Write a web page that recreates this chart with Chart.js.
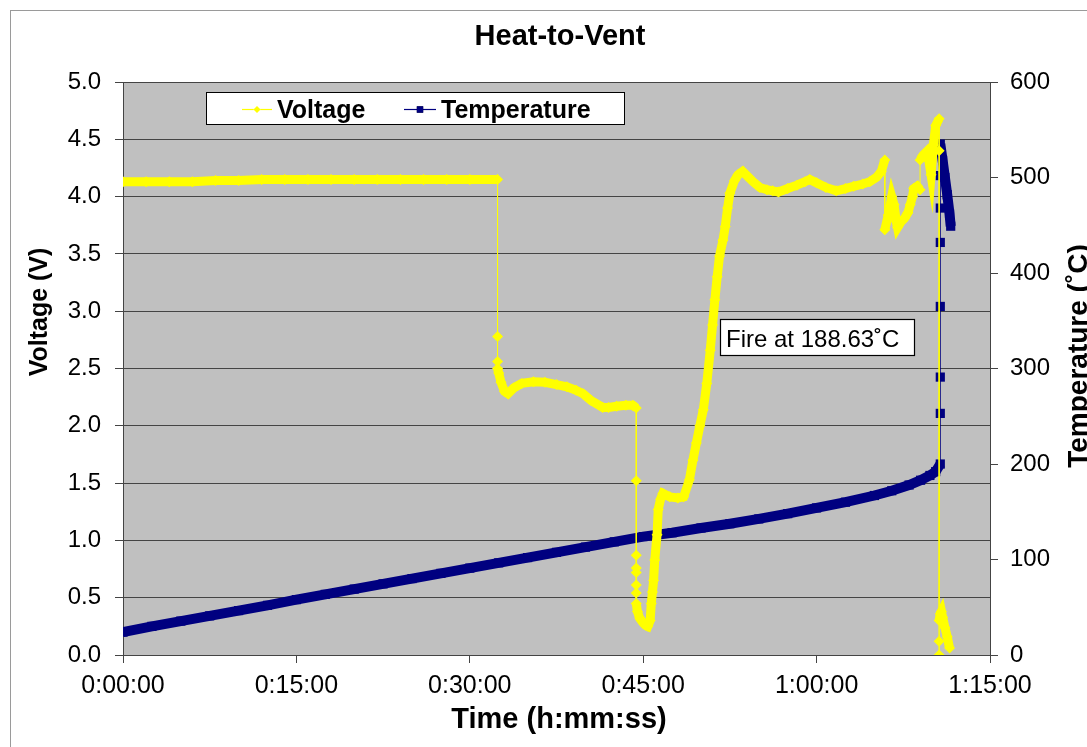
<!DOCTYPE html>
<html>
<head>
<meta charset="utf-8">
<script src="https://cdn.jsdelivr.net/npm/chart.js@4"></script>
<style>
  html, body { margin: 0; padding: 0; background: #fff; }
</style>
</head>
<body>
<canvas id="chart" width="1087" height="747"></canvas>
<script>
// Time in minutes since start
const voltTime = [
  0, 2, 4, 6, 8, 10, 12, 14, 16, 18, 20, 22, 24, 26, 28, 30, 32.4,
  32.4, 32.4, 32.4, 32.5, 32.7, 33.0, 33.3, 33.8, 34.5, 35.5, 36.5, 37.5, 38.4, 39.2, 39.8,
  40.5, 41.5, 42.0, 42.7, 43.5, 44.1, 44.4,
  44.4, 44.4, 44.4, 44.4, 44.4, 44.4, 44.4, 44.5, 44.7, 45.0, 45.2, 45.4, 45.6, 45.7, 45.8,
  45.9, 46.0, 46.2, 46.3, 46.5, 46.7, 47.3, 48.0, 48.5, 49.0, 49.3, 49.6, 49.9, 50.2, 50.5,
  50.8, 51.0, 51.2, 51.4, 51.6, 51.9, 52.1, 52.3, 52.5, 52.9, 53.2, 53.6, 54.0, 54.5, 55.1,
  55.7, 56.2, 56.7, 57.5, 58.3, 59.0, 59.4, 60.0, 60.8, 61.7, 62.5, 63.2, 64.0, 64.6, 65.2,
  65.6, 65.9,
  65.9, 66.2, 66.35, 66.5, 66.7, 66.9, 67.0, 67.3, 67.6, 67.9, 68.1, 68.3, 68.4, 68.7, 68.95,
  68.95, 69.2, 69.5, 69.7, 69.9, 70.1, 70.3, 70.6,
  70.6, 70.6, 70.6, 70.6, 70.7, 70.8, 70.9, 71.1, 71.3, 71.5
];
const voltValue = [
  4.13, 4.13, 4.13, 4.13, 4.14, 4.14, 4.15, 4.15, 4.15, 4.15, 4.15, 4.15, 4.15, 4.15, 4.15, 4.15, 4.15,
  2.78, 2.56, 2.50, 2.46, 2.38, 2.30, 2.28, 2.33, 2.37, 2.385, 2.38, 2.36, 2.34, 2.31, 2.28,
  2.22, 2.16, 2.16, 2.17, 2.18, 2.18, 2.155,
  1.52, 0.87, 0.76, 0.72, 0.61, 0.54, 0.45, 0.38, 0.32, 0.28, 0.26, 0.25, 0.30, 0.45, 0.55,
  0.65, 0.83, 1.05, 1.27, 1.36, 1.41, 1.38, 1.37, 1.38, 1.53, 1.70, 1.85, 2.00, 2.14, 2.37,
  2.66, 2.88, 3.10, 3.30, 3.48, 3.62, 3.74, 3.90, 4.03, 4.14, 4.19, 4.22, 4.18, 4.13, 4.08,
  4.06, 4.05, 4.04, 4.07, 4.10, 4.13, 4.15, 4.12, 4.08, 4.05, 4.07, 4.09, 4.11, 4.13, 4.17,
  4.22, 4.32,
  3.71, 3.84, 3.92, 4.00, 3.93, 3.78, 3.73, 3.78, 3.81, 3.86, 3.93, 4.00, 4.07, 4.09, 4.06,
  4.32, 4.36, 4.39, 4.32, 4.19, 4.45, 4.62, 4.68,
  4.40, 0.00, 0.12, 0.30, 0.36, 0.38, 0.33, 0.24, 0.16, 0.06
];

const tempTime = [
  0, 2.5, 5, 7.5, 10, 12.5, 15, 17.5, 20, 22.5, 25, 27.5, 30, 32.5, 35, 37.5, 40, 42.5,
  45, 47.5, 50, 52.5, 55, 57.5, 60, 62.5, 65, 66.5, 68, 69, 69.8, 70.3, 70.7,
  70.7, 70.7, 70.7, 70.7, 70.7, 70.7, 70.7,
  70.9, 71.1, 71.3, 71.5, 71.6
];
const tempValue = [
  24, 30, 35.5, 41, 46.5, 52, 58, 63.5, 69, 74.5, 80, 85.5, 91, 96.5, 102, 107.5, 113, 118.5,
  124, 128, 133, 137.5, 142.5, 148, 154, 160, 167, 172, 178, 183, 188, 192, 200,
  253, 291, 365, 432, 468, 502, 535,
  518, 500, 482, 462, 449
];

const timeTicks = [0, 15, 30, 45, 60, 75];
const chartTitle = 'Heat-to-Vent';
const xTitle = 'Time (h:mm:ss)';
const yTitle = 'Voltage (V)';
const y1Title = 'Temperature (˚C)';
const noteText = 'Fire at 188.63˚C';

const FONT = '"Liberation Sans", Arial, sans-serif';

function fmtTime(min) {
  const h = Math.floor(min / 60);
  const m = Math.round(min % 60);
  return h + ':' + String(m).padStart(2, '0') + ':00';
}

// a jump (same time stamp) is drawn thin, dense data is drawn as a fat band
const thinOrFat = (fat) => (ctx) => ctx.p0.parsed.x === ctx.p1.parsed.x ? 1 : fat;

const backdrop = {
  id: 'backdrop',
  beforeDraw(chart) {
    const { ctx, chartArea: a } = chart;
    ctx.save();
    ctx.fillStyle = '#fff';
    ctx.fillRect(0, 0, chart.width, chart.height);
    ctx.strokeStyle = '#9a9a9a';
    ctx.lineWidth = 1;
    ctx.strokeRect(10.5, 10.5, chart.width + 20, chart.height + 20);
    ctx.fillStyle = '#c0c0c0';
    ctx.fillRect(a.left, a.top, a.right - a.left, a.bottom - a.top);
    ctx.restore();
  }
};

const decorations = {
  id: 'decorations',
  afterDraw(chart) {
    const ctx = chart.ctx;
    ctx.save();
    ctx.fillStyle = '#000';
    ctx.textBaseline = 'alphabetic';

    // title
    ctx.font = 'bold 29px ' + FONT;
    ctx.textAlign = 'center';
    ctx.fillText(chartTitle, 560, 45);

    // x axis title
    ctx.font = 'bold 29px ' + FONT;
    ctx.fillText(xTitle, 559, 728);

    // left axis title
    ctx.save();
    ctx.translate(47, 312);
    ctx.rotate(-Math.PI / 2);
    ctx.font = 'bold 25px ' + FONT;
    ctx.fillText(yTitle, 0, 0);
    ctx.restore();

    // right axis title (runs off the edge like the original)
    ctx.save();
    ctx.translate(1087, 356);
    ctx.rotate(-Math.PI / 2);
    ctx.font = 'bold 28px ' + FONT;
    ctx.fillText(y1Title, 0, 0);
    ctx.restore();

    // legend
    ctx.fillStyle = '#fff';
    ctx.fillRect(206.5, 92.5, 418, 32);
    ctx.strokeStyle = '#000';
    ctx.lineWidth = 1;
    ctx.strokeRect(206.5, 92.5, 418, 32);
    const sets = chart.data.datasets;
    const items = [
      { ds: sets[0], x0: 242, x1: 272, text: 277 },
      { ds: sets[1], x0: 404, x1: 436, text: 441 }
    ];
    items.forEach((it) => {
      ctx.strokeStyle = it.ds.borderColor;
      ctx.lineWidth = 1.2;
      ctx.beginPath();
      ctx.moveTo(it.x0, 109.5);
      ctx.lineTo(it.x1, 109.5);
      ctx.stroke();
      Chart.helpers.drawPoint(ctx, {
        pointStyle: it.ds.pointStyle,
        radius: it.ds.pointStyle === 'rect' ? 4.5 : 3.5,
        rotation: 0,
        borderWidth: 0
      }, (it.x0 + it.x1) / 2, 109.5);
      ctx.fillStyle = it.ds.backgroundColor;
      ctx.fill();
      ctx.fillStyle = '#000';
      ctx.font = 'bold 25px ' + FONT;
      ctx.textAlign = 'left';
      ctx.fillText(it.ds.label, it.text, 118);
    });

    // note box
    ctx.fillStyle = '#fff';
    ctx.fillRect(720.5, 319.5, 194, 36);
    ctx.strokeStyle = '#000';
    ctx.strokeRect(720.5, 319.5, 194, 36);
    ctx.fillStyle = '#000';
    ctx.font = '24px ' + FONT;
    ctx.textAlign = 'left';
    ctx.fillText(noteText, 726, 347);

    ctx.restore();
  }
};

new Chart(document.getElementById('chart'), {
  type: 'line',
  data: {
    datasets: [{
      label: 'Voltage',
      data: voltTime.map((t, i) => ({ x: t, y: voltValue[i] })),
      yAxisID: 'y',
      borderColor: '#ffff00',
      backgroundColor: '#ffff00',
      pointStyle: 'rectRot',
      pointRadius: 5.5,
      pointBorderWidth: 0,
      borderWidth: 9,
      tension: 0,
      segment: { borderWidth: thinOrFat(9) }
    }, {
      label: 'Temperature',
      data: tempTime.map((t, i) => ({ x: t, y: tempValue[i] })),
      yAxisID: 'y1',
      borderColor: '#000080',
      backgroundColor: '#000080',
      pointStyle: 'rect',
      pointRadius: 6.5,
      pointBorderWidth: 0,
      borderWidth: 10,
      tension: 0,
      segment: { borderWidth: thinOrFat(10) }
    }]
  },
  options: {
    responsive: false,
    animation: false,
    layout: { padding: { top: 82 } },
    font: { family: FONT },
    plugins: {
      legend: { display: false },
      title: { display: false },
      tooltip: { enabled: false }
    },
    scales: {
      x: {
        type: 'linear',
        min: 0,
        max: 75,
        afterBuildTicks: (scale) => { scale.ticks = timeTicks.map(v => ({ value: v })); },
        afterFit: (scale) => { scale.height = 92; },
        ticks: {
          callback: (v) => fmtTime(v),
          color: '#000',
          padding: 8,
          maxRotation: 0,
          font: { size: 25, family: FONT }
        },
        grid: { drawOnChartArea: false, drawTicks: true, tickLength: 8, color: '#444' },
        border: { display: true, color: '#444' }
      },
      y: {
        position: 'left',
        min: 0,
        max: 5,
        afterFit: (scale) => { scale.width = 123; },
        ticks: {
          stepSize: 0.5,
          callback: (v) => v.toFixed(1),
          color: '#000',
          padding: 14,
          font: { size: 24, family: FONT }
        },
        grid: { color: '#444', tickLength: 8 },
        border: { display: true, color: '#444' }
      },
      y1: {
        position: 'right',
        min: 0,
        max: 600,
        afterFit: (scale) => { scale.width = 97; },
        ticks: {
          stepSize: 100,
          color: '#000',
          padding: 12,
          font: { size: 24, family: FONT }
        },
        grid: { drawOnChartArea: false, tickLength: 8, color: '#444' },
        border: { display: true, color: '#444' }
      }
    }
  },
  plugins: [backdrop, decorations]
});
</script>
</body>
</html>
